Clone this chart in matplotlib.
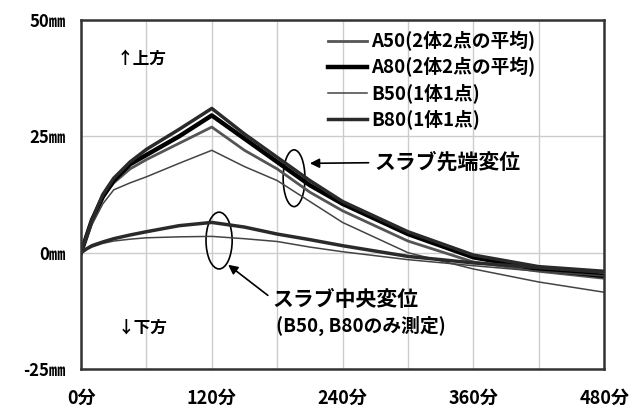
import numpy as np
import matplotlib
matplotlib.use("Agg")
import matplotlib.pyplot as plt
from matplotlib.patches import Ellipse

plt.rcParams['font.family'] = ['Noto Sans CJK JP', 'DejaVu Sans']
plt.rcParams['font.weight'] = 'bold'

# elapsed time (min)
t = [0, 5, 10, 20, 30, 45, 60, 90, 120, 150, 180, 210, 240, 300, 360, 420, 480]

# slab tip displacement (mm)
tip_a50 = [0, 3.5, 7, 12, 15, 18, 20, 23.5, 27, 22, 18, 13, 9, 2.5, -2, -4, -5.5]
tip_a80 = [0, 3.5, 7, 12, 15.5, 19, 21, 25, 29.5, 24.5, 19.5, 14.5, 10.5, 4, -1, -3.5, -5]
tip_b50 = [0, 3, 6, 10.5, 13.5, 15, 16.3, 19.2, 22, 18.5, 15.5, 11, 6.5, 0, -3.5, -6.3, -8.5]
tip_b80 = [0, 3.5, 7, 12.5, 16, 19.5, 22.2, 26.5, 31, 25.5, 20.5, 15.5, 11, 4.5, -0.5, -3, -4]

# slab centre displacement (mm), B only
mid_b50 = [0, 0.7, 1.2, 2, 2.5, 2.9, 3.2, 3.4, 3.5, 3, 2.4, 1.2, 0.2, -1.5, -2.8, -4, -5]
mid_b80 = [0, 0.8, 1.5, 2.3, 3, 3.8, 4.5, 5.8, 6.5, 5.5, 4, 2.8, 1.5, -0.8, -2.2, -3.2, -4.2]

xticks = [0, 120, 240, 360, 480]
xlabels = ['0分', '120分', '240分', '360分', '480分']
yticks = [-25, 0, 25, 50]
ylabels = ['-25㎜', '0㎜', '25㎜', '50㎜']

fig = plt.figure(figsize=(6.34, 4.12), dpi=100)
ax = fig.add_axes([0.1278, 0.1044, 0.825, 0.847])

# styles
st = {
    'A50': dict(color='#555555', lw=2.0),
    'A80': dict(color='#000000', lw=3.2),
    'B50': dict(color='#444444', lw=1.1),
    'B80': dict(color='#2a2a2a', lw=2.5),
}

ax.plot(t, tip_a50, label='A50(2体2点の平均)', **st['A50'])
ax.plot(t, tip_a80, label='A80(2体2点の平均)', **st['A80'])
ax.plot(t, tip_b50, label='B50(1体1点)', **st['B50'])
ax.plot(t, tip_b80, label='B80(1体1点)', **st['B80'])
ax.plot(t, mid_b50, **st['B50'])
ax.plot(t, mid_b80, **st['B80'])

ax.set_xlim(0, 480)
ax.set_ylim(-25, 50)
ax.set_xticks(xticks)
ax.set_xticklabels(xlabels, fontsize=13)
ax.set_xticks([60, 180, 300, 420], minor=True)
ax.set_yticks(yticks)
ax.set_yticklabels(ylabels, fontsize=12)
ax.tick_params(axis='both', which='both', length=0)
ax.tick_params(axis='x', pad=14)
ax.tick_params(axis='y', pad=11)
ax.grid(True, which='both', color='#cccccc', lw=1.0)
ax.set_axisbelow(True)
for s in ax.spines.values():
    s.set_linewidth(1.8)
    s.set_color('#333333')

leg = ax.legend(loc='upper left', bbox_to_anchor=(0.45, 1.0), frameon=False,
                prop=dict(size=13.5, weight='bold'), handlelength=2.1,
                handletextpad=0.2, labelspacing=0.32, borderaxespad=0.2)

# annotations
ax.add_patch(Ellipse((195.5, 16), 20, 12.2, fill=False, ec='black', lw=1.2))
ax.add_patch(Ellipse((126.7, 2.6), 24, 12.2, fill=False, ec='black', lw=1.2))
ax.annotate('スラブ先端変位', xy=(210, 19.2), xytext=(269, 19.5),
            fontsize=15, va='center', ha='left',
            arrowprops=dict(arrowstyle='-|>', color='black', lw=1.2,
                            shrinkA=2, shrinkB=0, mutation_scale=14))
ax.annotate('スラブ中央変位', xy=(135, -2.6), xytext=(176, -10),
            fontsize=15, va='center', ha='left',
            arrowprops=dict(arrowstyle='-|>', color='black', lw=1.2,
                            shrinkA=2, shrinkB=0, mutation_scale=14,
                            relpos=(0, 0.5)))
ax.text(179, -15.8, '(B50, B80のみ測定)', fontsize=13.5, va='center', ha='left')
ax.text(33, 41.7, '↑上方', fontsize=12, va='center', ha='left')
ax.text(34, -16, '↓下方', fontsize=12, va='center', ha='left')

fig.savefig('out.png', dpi=100)
